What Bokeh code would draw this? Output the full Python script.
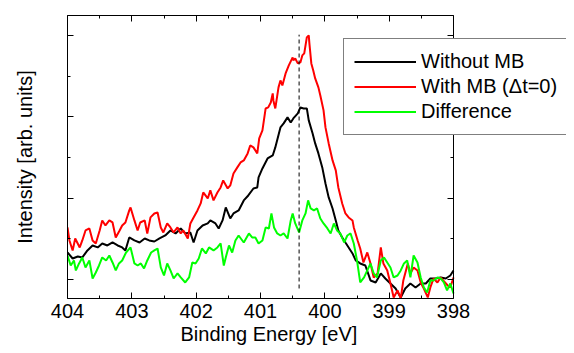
from bokeh.plotting import figure
from bokeh.models import Range1d, LinearAxis, SingleIntervalTicker, Legend, LegendItem, Title
from bokeh.embed import file_html
from bokeh.resources import INLINE

# ---------------- data ----------------
black_E = [404.00, 403.92, 403.84, 403.77, 403.69, 403.61, 403.53, 403.46, 403.38, 403.30,
           403.22, 403.15, 403.10, 403.04, 402.96, 402.88, 402.80, 402.73, 402.65, 402.57,
           402.48, 402.40, 402.32, 402.24, 402.17, 402.09, 402.04, 401.98, 401.90, 401.82,
           401.78, 401.70, 401.65, 401.59, 401.54, 401.47, 401.42, 401.34, 401.26, 401.19,
           401.11, 401.05, 401.03, 400.97, 400.89, 400.81, 400.77, 400.69, 400.64, 400.58,
           400.53, 400.49, 400.42, 400.38, 400.33, 400.28, 400.25, 400.19, 400.15, 400.10,
           400.04, 399.99, 399.94, 399.88, 399.83, 399.79, 399.73, 399.68, 399.63, 399.57,
           399.52, 399.45, 399.37, 399.29, 399.21, 399.13, 399.06, 398.98, 398.90, 398.82,
           398.75, 398.67, 398.59, 398.51, 398.43, 398.36, 398.28, 398.20, 398.12, 398.05,
           398.00]
black_I = [1.332, 1.258, 1.283, 1.271, 1.357, 1.418, 1.394, 1.443, 1.418, 1.455,
           1.418, 1.394, 1.357, 1.517, 1.480, 1.455, 1.504, 1.480, 1.467, 1.504,
           1.541, 1.603, 1.566, 1.627, 1.566, 1.578, 1.455, 1.603, 1.664, 1.689,
           1.726, 1.689, 1.627, 1.726, 1.886, 1.750, 1.812, 1.849, 1.972, 2.033,
           2.119, 2.132, 2.255, 2.365, 2.488, 2.525, 2.624, 2.870, 2.919, 2.993,
           2.931, 2.980, 3.042, 3.116, 3.103, 3.103, 2.956, 2.796, 2.673, 2.550,
           2.378, 2.181, 2.009, 1.873, 1.726, 1.603, 1.517, 1.455, 1.394, 1.320,
           1.234, 1.197, 1.172, 0.988, 0.963, 1.074, 1.012, 0.951, 0.889, 0.779,
           0.889, 0.951, 0.902, 0.951, 0.951, 1.012, 1.012, 1.025, 1.012, 1.049,
           1.111]

red_E = [404.00, 403.97, 403.92, 403.88, 403.81, 403.77, 403.72, 403.66, 403.61, 403.56,
         403.50, 403.46, 403.41, 403.35, 403.30, 403.25, 403.19, 403.15, 403.10, 403.04,
         403.02, 402.96, 402.91, 402.87, 402.80, 402.76, 402.71, 402.65, 402.60, 402.55,
         402.51, 402.45, 402.40, 402.35, 402.29, 402.24, 402.20, 402.13, 402.09, 402.04,
         401.98, 401.93, 401.89, 401.82, 401.78, 401.73, 401.67, 401.62, 401.58, 401.51,
         401.47, 401.42, 401.36, 401.31, 401.26, 401.20, 401.16, 401.11, 401.05, 401.02,
         400.97, 400.92, 400.88, 400.84, 400.81, 400.80, 400.77, 400.72, 400.69, 400.66,
         400.61, 400.56, 400.50, 400.49, 400.46, 400.42, 400.38, 400.35, 400.32, 400.28,
         400.25, 400.24, 400.21, 400.18, 400.15, 400.10, 400.07, 400.02, 399.99, 399.94,
         399.88, 399.83, 399.79, 399.73, 399.68, 399.63, 399.57, 399.55, 399.49, 399.45,
         399.40, 399.34, 399.29, 399.24, 399.18, 399.13, 399.09, 399.03, 398.98, 398.93,
         398.87, 398.82, 398.78, 398.71, 398.67, 398.62, 398.56, 398.51, 398.47, 398.40,
         398.36, 398.31, 398.25, 398.20, 398.16, 398.09, 398.05, 398.00]
red_I = [1.640, 1.480, 1.357, 1.504, 1.394, 1.480, 1.603, 1.627, 1.480, 1.443,
         1.603, 1.726, 1.664, 1.726, 1.701, 1.517, 1.603, 1.664, 1.701, 1.849,
         1.886, 1.726, 1.603, 1.701, 1.726, 1.566, 1.763, 1.812, 1.824, 1.640,
         1.578, 1.689, 1.640, 1.578, 1.640, 1.566, 1.603, 1.504, 1.689, 1.763,
         1.849, 1.935, 2.070, 1.996, 2.095, 1.972, 2.070, 2.132, 2.218, 2.119,
         2.156, 2.304, 2.378, 2.439, 2.464, 2.550, 2.648, 2.624, 2.550, 2.734,
         2.833, 3.103, 3.116, 3.177, 3.288, 3.202, 3.103, 3.362, 3.448, 3.386,
         3.534, 3.632, 3.731, 3.694, 3.718, 3.657, 3.669, 3.755, 3.780, 3.977,
         4.001, 3.903, 3.657, 3.571, 3.472, 3.362, 3.263, 3.079, 2.870, 2.673,
         2.464, 2.341, 2.132, 1.935, 1.812, 1.763, 1.726, 1.640, 1.480, 1.381,
         1.209, 1.332, 1.197, 1.025, 1.074, 1.394, 1.197, 1.111, 0.951, 0.779,
         0.865, 0.766, 0.988, 1.197, 1.074, 1.148, 1.111, 0.963, 0.902, 0.779,
         0.902, 1.012, 0.963, 1.025, 0.988, 0.926, 0.902, 1.025]

green_E = [404.00, 403.95, 403.90, 403.87, 403.82, 403.77, 403.72, 403.66, 403.61, 403.56,
           403.51, 403.46, 403.40, 403.35, 403.30, 403.25, 403.20, 403.15, 403.09, 403.02,
           402.96, 402.91, 402.86, 402.81, 402.76, 402.70, 402.65, 402.60, 402.55, 402.50,
           402.45, 402.40, 402.35, 402.29, 402.24, 402.17, 402.11, 402.06, 402.01, 401.96,
           401.91, 401.85, 401.80, 401.73, 401.67, 401.62, 401.57, 401.54, 401.49, 401.44,
           401.39, 401.34, 401.26, 401.18, 401.13, 401.08, 401.03, 400.97, 400.92, 400.87,
           400.83, 400.79, 400.74, 400.69, 400.64, 400.58, 400.53, 400.50, 400.46, 400.40,
           400.35, 400.30, 400.26, 400.22, 400.17, 400.12, 400.07, 400.02, 399.96, 399.91,
           399.86, 399.81, 399.76, 399.70, 399.65, 399.60, 399.55, 399.50, 399.45, 399.39,
           399.34, 399.29, 399.24, 399.19, 399.13, 399.08, 399.03, 398.98, 398.93, 398.87,
           398.82, 398.77, 398.72, 398.67, 398.62, 398.56, 398.51, 398.46, 398.41, 398.36,
           398.31, 398.25, 398.20, 398.15, 398.10, 398.05, 398.00]
green_I = [1.295, 1.172, 1.234, 1.111, 1.197, 1.271, 1.148, 1.234, 1.012, 1.086,
           1.172, 1.271, 1.234, 1.295, 1.209, 1.111, 1.197, 1.234, 1.332, 1.394,
           1.197, 1.172, 1.197, 1.135, 1.234, 1.332, 1.357, 1.381, 1.148, 1.049,
           1.197, 1.111, 1.012, 1.074, 1.025, 0.963, 1.025, 1.209, 1.197, 1.258,
           1.381, 1.320, 1.394, 1.357, 1.394, 1.443, 1.172, 1.271, 1.418, 1.332,
           1.480, 1.541, 1.455, 1.566, 1.517, 1.517, 1.443, 1.480, 1.640, 1.627,
           1.812, 1.640, 1.566, 1.541, 1.566, 1.504, 1.726, 1.812, 1.689, 1.578,
           1.726, 1.812, 1.972, 1.873, 1.849, 1.873, 1.750, 1.689, 1.627, 1.566,
           1.689, 1.603, 1.566, 1.455, 1.541, 1.566, 1.443, 1.234, 0.963, 1.025,
           1.111, 1.197, 1.074, 1.025, 1.234, 1.271, 1.209, 1.148, 1.025, 1.049,
           1.111, 1.197, 1.234, 1.025, 1.295, 1.209, 1.025, 0.902, 0.840, 0.988,
           0.988, 1.025, 1.012, 0.963, 0.865, 0.951, 0.828]

series_labels = ["Without MB", "With MB (\u0394t=0)", "Difference"]
x_label = "Binding Energy [eV]"
y_label = "Intensity [arb. units]"
peak_E = 400.4
peak_I_range = (0.889, 4.01)

x_start, x_end = 404, 398          # axis limits of the plotted box
y_start, y_end = 0.766, 4.246

FONT = "Liberation Sans"

# ---------------- layout ----------------
W, H = 574, 353
LEFT, TOP, BOTTOM = 67, 15, 55
BOX_W = 386                       # width of the drawn axes box (404 -> 398)
FRAME_W = W - LEFT - 8            # frame is wider so the legend can overhang the box
x_frame_end = x_start - (x_start - x_end) * FRAME_W / BOX_W

p = figure(width=W, height=H, output_backend="svg", toolbar_location=None, title=None,
           x_range=Range1d(x_start, x_frame_end), y_range=Range1d(y_start, y_end),
           min_border_left=LEFT, min_border_right=8, min_border_top=TOP, min_border_bottom=BOTTOM,
           y_axis_label=y_label)
p.grid.visible = False
p.outline_line_color = None
p.background_fill_color = "white"
p.border_fill_color = "white"


def style_axis(ax, show_labels):
    ax.axis_line_color = "black"
    ax.axis_line_width = 1
    ax.major_tick_line_color = "black"
    ax.minor_tick_line_color = "black"
    ax.major_tick_in = 6
    ax.major_tick_out = 0
    ax.minor_tick_in = 3
    ax.minor_tick_out = 0
    ax.major_label_text_font = FONT
    ax.major_label_text_line_height = 1.0
    ax.axis_label_text_font = FONT
    ax.axis_label_text_font_style = "normal"
    ax.axis_label_text_color = "black"
    ax.axis_label_text_font_size = "20px"
    if show_labels:
        ax.major_label_text_color = "black"
        ax.major_label_text_font_size = "20px"
        ax.major_label_standoff = 5
    else:
        ax.major_label_text_color = None
        ax.major_label_text_font_size = "1px"
        ax.major_label_standoff = 0


xb = p.xaxis[0]
xb.ticker = SingleIntervalTicker(interval=1, num_minor_ticks=2)
xb.bounds = (x_end, x_start)
style_axis(xb, True)

yl = p.yaxis[0]
yl.ticker = SingleIntervalTicker(interval=1, num_minor_ticks=2)
style_axis(yl, False)
yl.axis_label_standoff = 32

xt = LinearAxis(ticker=SingleIntervalTicker(interval=1, num_minor_ticks=2), bounds=(x_end, x_start))
style_axis(xt, False)
p.add_layout(xt, "above")

yr = LinearAxis(ticker=SingleIntervalTicker(interval=1, num_minor_ticks=2), fixed_location=x_end)
style_axis(yr, False)
p.add_layout(yr, "right")

p.add_layout(Title(text=x_label, align="left", offset=113, standoff=0, vertical_align="bottom",
                   text_font=FONT, text_font_size="20px", text_font_style="normal",
                   text_line_height=1.0, text_color="black"), "below")

# ---------------- data lines ----------------
r_black = p.line(black_E, black_I, line_color="black", line_width=2)
r_red = p.line(red_E, red_I, line_color="#ff0000", line_width=2)
r_green = p.line(green_E, green_I, line_color="#00ff00", line_width=2)

p.segment(x0=[peak_E], y0=[peak_I_range[0]], x1=[peak_E], y1=[peak_I_range[1]],
          line_color="black", line_width=1, line_dash="4 3")

legend = Legend(items=[LegendItem(label=series_labels[0], renderers=[r_black]),
                       LegendItem(label=series_labels[1], renderers=[r_red]),
                       LegendItem(label=series_labels[2], renderers=[r_green])],
                location=(276, 163), padding=10, spacing=0, margin=0,
                glyph_width=62, glyph_height=25, label_standoff=5,
                label_width=135, label_height=25,
                label_text_font=FONT, label_text_font_size="20px", label_text_color="black",
                border_line_color="black", border_line_width=1,
                background_fill_color="white", background_fill_alpha=1.0)
p.add_layout(legend)

open("out.html", "w").write(file_html(p, INLINE))
